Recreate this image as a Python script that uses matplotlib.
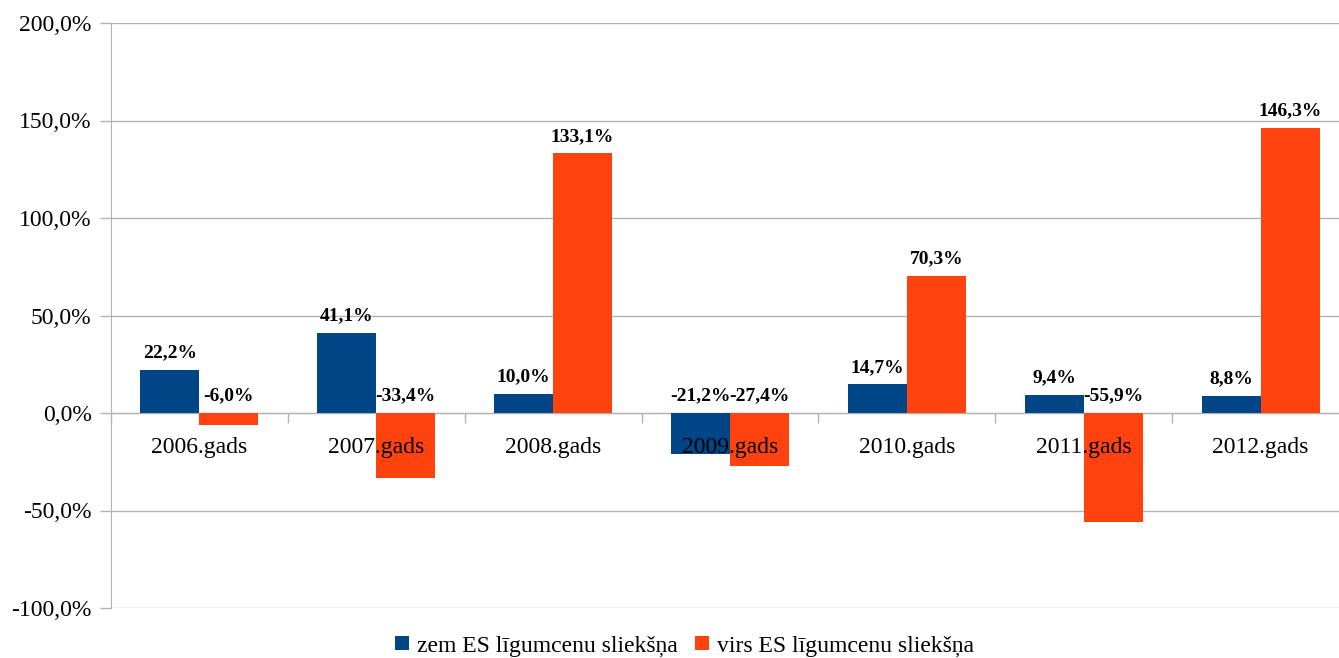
import matplotlib
matplotlib.use("Agg")
import matplotlib.pyplot as plt
import numpy as np
from matplotlib.ticker import FixedLocator, FuncFormatter

categories = ["2006.gads", "2007.gads", "2008.gads", "2009.gads", "2010.gads", "2011.gads", "2012.gads"]
zem = [22.2, 41.1, 10.0, -21.2, 14.7, 9.4, 8.8]
virs = [-6.0, -33.4, 133.1, -27.4, 70.3, -55.9, 146.3]
series_names = ["zem ES līgumcenu sliekšņa", "virs ES līgumcenu sliekšņa"]
yticks = [-100, -50, 0, 50, 100, 150, 200]

plt.rcParams['font.family'] = ['Liberation Serif', 'DejaVu Serif']

W, H = 1339, 658
fig = plt.figure(figsize=(W / 100, H / 100), dpi=100)
ax = fig.add_axes([111 / W, 1 - 608 / H, (1349 - 111) / W, (608 - 23) / H])

blue = "#004586"
orange = "#ff420e"
grid_c = "#b3b3b3"

x = np.arange(len(categories))
bw = 1 / 3
b1 = ax.bar(x - bw / 2, zem, bw, color=blue, label=series_names[0], zorder=1)
b2 = ax.bar(x + bw / 2, virs, bw, color=orange, label=series_names[1], zorder=1)

ax.set_xlim(-0.5, len(categories) - 0.5)
ax.set_ylim(-100, 200)

for t in yticks:
    ax.axhline(t, color=grid_c, lw=1.0, zorder=0.5)

ax.yaxis.set_major_locator(FixedLocator(yticks))
ax.yaxis.set_major_formatter(FuncFormatter(lambda v, p: f"{v:.1f}%".replace(".", ",")))
ax.tick_params(axis='y', direction='out', length=8, width=1, color=grid_c, pad=6, labelsize=17)

ax.set_xticks(x)
ax.set_xticklabels(categories)
ax.set_xticks(np.arange(len(categories) + 1) - 0.5, minor=True)
ax.tick_params(axis='x', which='major', length=0, pad=17, labelsize=17)
ax.tick_params(axis='x', which='minor', direction='out', length=7.5, width=1, color=grid_c)

for s in ['top', 'right']:
    ax.spines[s].set_visible(False)
ax.spines['bottom'].set_position(('data', 0))
ax.spines['bottom'].set_color(grid_c)
ax.spines['bottom'].set_zorder(0.6)
ax.spines['left'].set_color(grid_c)

for bars, vals in ((b1, zem), (b2, virs)):
    for rect, v in zip(bars, vals):
        cx = rect.get_x() + rect.get_width() / 2
        ax.annotate(f"{v:.1f}%".replace(".", ","), (cx, max(v, 0)), xytext=(0, 6),
                    textcoords='offset points', ha='center', va='bottom',
                    fontsize=14, fontweight='bold', zorder=5)

fig.legend(handles=[b1, b2], labels=series_names, loc='center',
           bbox_to_anchor=(684.5 / W, 1 - 646 / H), ncol=2, frameon=False,
           fontsize=17, handlelength=0.59, handleheight=0.59, handletextpad=0.34,
           columnspacing=0.72, borderaxespad=0, borderpad=0)

fig.savefig("out.png", dpi=100)
